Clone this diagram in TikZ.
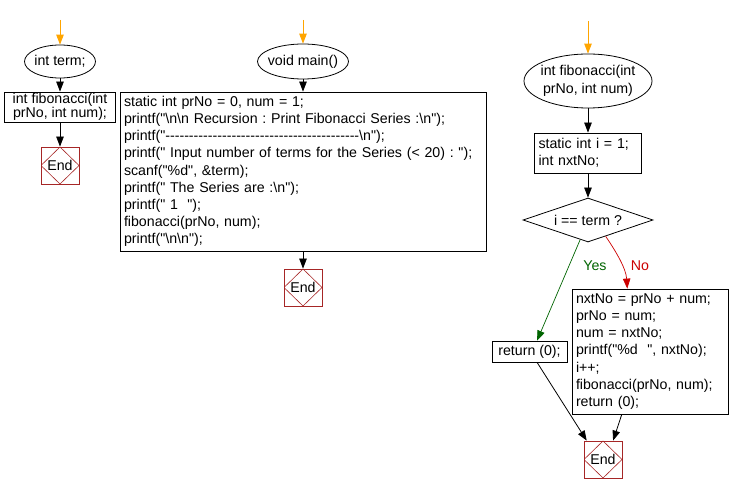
\documentclass[tikz,border=0pt]{standalone}
\usepackage{fontspec}
\setmainfont{Liberation Sans}[Ligatures=TeXOff]
\usetikzlibrary{shapes.geometric,arrows.meta,calc}
\definecolor{endred}{RGB}{166,38,38}
\definecolor{startorange}{RGB}{255,165,0}
\definecolor{yesgreen}{RGB}{0,100,0}
\definecolor{nored}{RGB}{204,0,0}
\frenchspacing
\begin{document}
\begin{tikzpicture}[x=1pt,y=-1pt,
  every node/.style={font=\fontsize{14.2}{17.2}\selectfont, inner sep=0pt},
  term/.style={draw, ellipse, inner sep=-6pt, align=center, line width=0.8pt},
  box/.style={draw, rectangle, inner xsep=4pt, inner ysep=0pt, align=left, line width=0.8pt},
  endbox/.style={draw=endred, rectangle, line width=0.8pt, minimum width=38pt, minimum height=37pt,
    path picture={\draw[endred, line width=0.6pt] (path picture bounding box.north) -- (path picture bounding box.east) -- (path picture bounding box.south) -- (path picture bounding box.west) -- cycle;}},
  flow/.style={-{Triangle[length=10pt,width=7.5pt]}, line width=0.8pt},
  start/.style={-{Triangle[length=10pt,width=7.5pt]}, draw=startorange, line width=1pt},
  yesarrow/.style={-{Triangle[length=10pt,width=7.5pt]}, draw=yesgreen, line width=0.7pt},
  noarrow/.style={-{Triangle[length=10pt,width=7.5pt]}, draw=nored, line width=0.7pt}
]
\useasboundingbox (0,0) rectangle (729,494);

% left column
\coordinate (s1) at (60,20);
\node[term, minimum width=71pt, minimum height=33pt] (t1) at (60,61.5) {int term;};
\node[box, align=center, minimum width=111pt, minimum height=30pt, font=\fontsize{14.2}{13.5}\selectfont] (d1) at (60,107) {int fibonacci(int\\ prNo, int num);};
\node[endbox] (e1) at (60,165.5) {End};
\draw[start] (s1) -- (t1);
\draw[flow] (t1) -- (d1);
\draw[flow] (d1) -- (e1);

% middle column
\coordinate (s2) at (303,20);
\node[term, minimum width=91pt, minimum height=35pt] (t2) at (303,61.5) {void main()};
\node[box, text width=358pt, minimum height=159pt] (d2) at (303,171.5) {static int prNo = 0, num = 1;\\
printf("\textbackslash n\textbackslash n Recursion : Print Fibonacci Series :\textbackslash n");\\
printf("-----------------------------------------\textbackslash n");\\
printf(" Input number of terms for the Series (< 20) : ");\\
scanf("\%d", \&term);\\
printf(" The Series are :\textbackslash n");\\
printf(" 1~~");\\
fibonacci(prNo, num);\\
printf("\textbackslash n\textbackslash n");};
\node[endbox] (e2) at (303,287.5) {End};
\draw[start] (s2) -- (t2);
\draw[flow] (t2) -- (d2);
\draw[flow] (d2) -- (e2);

% right column
\coordinate (s3) at (588,21);
\node[term, minimum width=128pt, minimum height=54pt, font=\fontsize{14.2}{18}\selectfont] (t3) at (588,81) {int fibonacci(int\\prNo, int num)};
\node[box, text width=99pt, minimum height=40pt, font=\fontsize{14.2}{16.7}\selectfont] (d3) at (588,153) {static int i = 1;\\int nxtNo;};
\node[diamond, draw, line width=0.8pt, aspect=2.95, minimum width=130pt, minimum height=44pt] (q) at (588,220) {i == term ?};
\node[box, align=center, inner xsep=0pt, minimum width=75pt, minimum height=21pt] (r) at (529.5,351.5) {return (0);};
\node[box, text width=148pt, minimum height=125pt] (b) at (650,351.5) {nxtNo = prNo + num;\\
prNo = num;\\
num = nxtNo;\\
printf("\%d~~", nxtNo);\\
i++;\\
fibonacci(prNo, num);\\
return (0);};
\node[endbox] (e3) at (603,459.5) {End};
\node[text=yesgreen] (ly) at (595,266) {Yes};
\node[text=nored] (ln) at (640,266) {No};

\draw[start] (s3) -- (t3);
\draw[flow] (t3) -- (d3);
\draw[flow] (d3) -- (q);
\draw[yesarrow] ($(q.south)!0.12!(q.west)$) -- ($(r.north west)!0.6!(r.north east)$);
\draw[noarrow] ($(q.south)!0.27!(q.east)$) .. controls (615,250) and (626,268) .. ($(b.north west)!0.355!(b.north east)$);
\draw[flow] ($(r.south west)!0.6!(r.south east)$) -- ($(e3.north west)!0.08!(e3.north east)$);
\draw[flow] ($(b.south west)!0.32!(b.south east)$) -- ($(e3.north west)!0.76!(e3.north east)$);
\end{tikzpicture}
\end{document}
